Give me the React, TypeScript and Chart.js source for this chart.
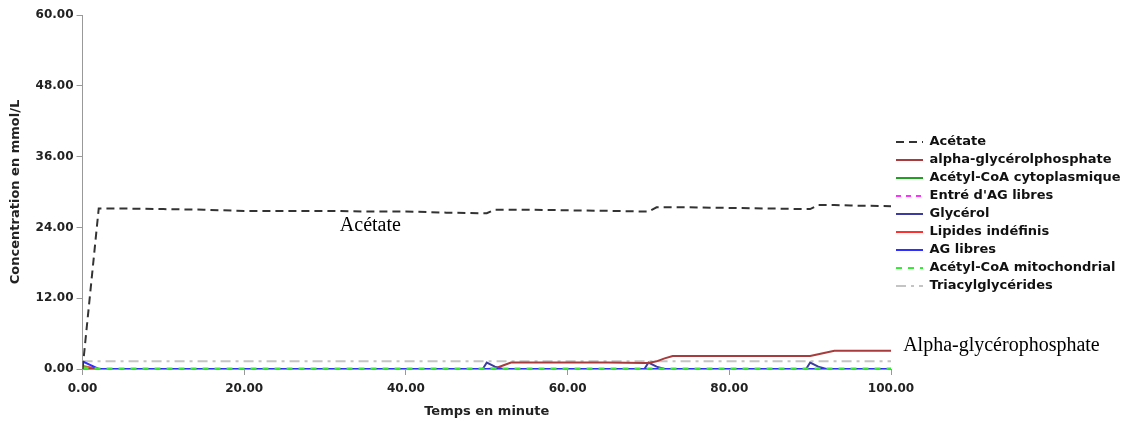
import React, { useEffect, useRef } from "react";
import { Chart, registerables } from "chart.js";

Chart.register(...registerables);

// Time points (minutes)
const times = [0, 2, 5, 10, 15, 20, 25, 30, 35, 40, 45, 49.5, 50, 51, 52, 53, 55, 60, 65, 69.5, 70, 71, 72, 73, 75, 80, 85, 89.5, 90, 91, 92, 93, 95, 100];

// Series values (mmol/L)
const acetate = [0, 27.2, 27.2, 27.1, 27.0, 26.8, 26.8, 26.8, 26.7, 26.7, 26.5, 26.4, 26.4, 27.0, 27.0, 27.0, 27.0, 26.9, 26.8, 26.7, 26.7, 27.4, 27.4, 27.4, 27.4, 27.3, 27.2, 27.1, 27.1, 27.8, 27.8, 27.8, 27.7, 27.6];
const alphaGlycerolphosphate = [0, 0, 0, 0, 0, 0, 0, 0, 0, 0, 0, 0, 0, 0.1, 0.6, 1.1, 1.1, 1.1, 1.1, 1.0, 1.0, 1.3, 1.8, 2.2, 2.2, 2.2, 2.2, 2.2, 2.2, 2.5, 2.8, 3.1, 3.1, 3.1];
const acetylCoaCyto = [0.3, 0, 0, 0, 0, 0, 0, 0, 0, 0, 0, 0, 0, 0, 0, 0, 0, 0, 0, 0, 0, 0, 0, 0, 0, 0, 0, 0, 0, 0, 0, 0, 0, 0];
const entreAgLibres = [0, 0, 0, 0, 0, 0, 0, 0, 0, 0, 0, 0, 0, 0, 0, 0, 0, 0, 0, 0, 0, 0, 0, 0, 0, 0, 0, 0, 0, 0, 0, 0, 0, 0];
const glycerol = [0, 0, 0, 0, 0, 0, 0, 0, 0, 0, 0, 0, 1.1, 0.4, 0, 0, 0, 0, 0, 0, 1.1, 0.4, 0, 0, 0, 0, 0, 0, 1.1, 0.4, 0, 0, 0, 0];
const lipidesIndefinis = [0.5, 0, 0, 0, 0, 0, 0, 0, 0, 0, 0, 0, 0, 0, 0, 0, 0, 0, 0, 0, 0, 0, 0, 0, 0, 0, 0, 0, 0, 0, 0, 0, 0, 0];
const agLibres = [1.3, 0, 0, 0, 0, 0, 0, 0, 0, 0, 0, 0, 0, 0, 0, 0, 0, 0, 0, 0, 0, 0, 0, 0, 0, 0, 0, 0, 0, 0, 0, 0, 0, 0];
const acetylCoaMito = [0.2, 0, 0, 0, 0, 0, 0, 0, 0, 0, 0, 0, 0, 0, 0, 0, 0, 0, 0, 0, 0, 0, 0, 0, 0, 0, 0, 0, 0, 0, 0, 0, 0, 0];
const triacylglycerides = [1.3, 1.3, 1.3, 1.3, 1.3, 1.3, 1.3, 1.3, 1.3, 1.3, 1.3, 1.3, 1.3, 1.3, 1.3, 1.3, 1.3, 1.3, 1.3, 1.3, 1.3, 1.3, 1.3, 1.3, 1.3, 1.3, 1.3, 1.3, 1.3, 1.3, 1.3, 1.3, 1.3, 1.3];

const seriesNames = [
  "Acétate",
  "alpha-glycérolphosphate",
  "Acétyl-CoA cytoplasmique",
  "Entré d'AG libres",
  "Glycérol",
  "Lipides indéfinis",
  "AG libres",
  "Acétyl-CoA mitochondrial",
  "Triacylglycérides",
];

// Axis ticks
const xTicks = [0, 20, 40, 60, 80, 100];
const yTicks = [0, 12, 24, 36, 48, 60];

// Annotation texts (data coordinates)
const annotationTexts = [
  { text: "Acétate", x: 35.6, y: 24.2, align: "center" },
  { text: "Alpha-glycérophosphate", x: 101.5, y: 4.0, align: "left" },
];

const toPoints = (arr: number[]) => times.map((t, i) => ({ x: t, y: arr[i] }));

export default function App() {
  const canvasRef = useRef<HTMLCanvasElement>(null);

  useEffect(() => {
    const canvas = canvasRef.current;
    if (!canvas) return;

    const annotationPlugin = {
      id: "textAnnotations",
      afterDatasetsDraw(chart: any) {
        const { ctx, scales } = chart;
        const x = scales.x;
        const y = scales.y;
        ctx.save();
        ctx.font = '20px "Liberation Serif", "Times New Roman", serif';
        ctx.fillStyle = "#000";
        ctx.textBaseline = "middle";
        for (const a of annotationTexts) {
          ctx.textAlign = a.align as CanvasTextAlign;
          ctx.fillText(a.text, x.getPixelForValue(a.x), y.getPixelForValue(a.y));
        }
        ctx.restore();
      },
    };

    const mk = (i: number, data: number[], color: string, dash: number[], width = 2, order = 0) => ({
      label: seriesNames[i],
      data: toPoints(data),
      borderColor: color,
      backgroundColor: color,
      borderDash: dash,
      borderWidth: width,
      pointRadius: 0,
      tension: 0,
      order,
    });

    const chart = new Chart(canvas, {
      type: "line",
      data: {
        datasets: [
          mk(0, acetate, "#333333", [8, 5], 2, -2),
          mk(1, alphaGlycerolphosphate, "#a83c3c", [], 2, 1),
          mk(2, acetylCoaCyto, "#22a022", [], 2, 2),
          mk(3, entreAgLibres, "#ff33ff", [5, 5], 2, 2),
          mk(4, glycerol, "#3c3ca0", [], 2, 1),
          mk(5, lipidesIndefinis, "#ff3030", [], 2, 1),
          mk(6, agLibres, "#2f2fff", [], 2, 0),
          mk(7, acetylCoaMito, "#33ee33", [6, 6], 3, -1),
          mk(8, triacylglycerides, "#c4c4c4", [10, 5, 3, 5], 2, 3),
        ],
      },
      options: {
        animation: false,
        responsive: false,
        devicePixelRatio: 1,
        layout: { padding: { left: 4, top: 5, right: 0, bottom: 0 } },
        plugins: {
          tooltip: { enabled: false },
          legend: {
            position: "right",
            maxWidth: 234,
            labels: {
              usePointStyle: true,
              pointStyle: "line",
              pointStyleWidth: 27,
              padding: 5,
              color: "#111",
              font: { family: '"DejaVu Sans"', size: 13, weight: "bold" },
              sort: (a: any, b: any) => a.datasetIndex - b.datasetIndex,
              generateLabels: (ch: any) => {
                const items = (Chart as any).defaults.plugins.legend.labels.generateLabels(ch);
                items.forEach((it: any) => {
                  const ds = ch.data.datasets[it.datasetIndex];
                  it.lineDash = ds.borderDash;
                  it.strokeStyle = ds.borderColor;
                  it.fillStyle = ds.borderColor;
                  it.lineWidth = 2;
                });
                return items;
              },
            },
          },
        },
        scales: {
          x: {
            type: "linear",
            min: 0,
            max: 100,
            afterBuildTicks: (axis: any) => {
              axis.ticks = xTicks.map((v) => ({ value: v }));
            },
            ticks: {
              color: "#222",
              padding: 6.5,
              font: { family: '"DejaVu Sans"', size: 12, weight: "bold" },
              callback: (v: any) => Number(v).toFixed(2),
              maxRotation: 0,
            },
            grid: { drawOnChartArea: false, color: "#999", tickLength: 6 },
            border: { color: "#999" },
            title: {
              display: true,
              text: "Temps en minute",
              color: "#222",
              font: { family: '"DejaVu Sans"', size: 13, weight: "bold" },
              padding: { top: 1, bottom: 4 },
            },
          },
          y: {
            type: "linear",
            min: 0,
            max: 60,
            afterBuildTicks: (axis: any) => {
              axis.ticks = yTicks.map((v) => ({ value: v }));
            },
            afterFit: (axis: any) => {
              axis.paddingTop = 15;
            },
            ticks: {
              color: "#222",
              padding: 3,
              font: { family: '"DejaVu Sans"', size: 12, weight: "bold" },
              callback: (v: any) => Number(v).toFixed(2),
            },
            grid: { drawOnChartArea: false, color: "#999", tickLength: 6 },
            border: { color: "#999" },
            title: {
              display: true,
              text: "Concentration en mmol/L",
              color: "#222",
              font: { family: '"DejaVu Sans"', size: 13, weight: "bold" },
              padding: { top: 4, bottom: 9 },
            },
          },
        },
      },
      plugins: [annotationPlugin],
    } as any);

    return () => chart.destroy();
  }, []);

  return (
    <div style={{ position: "absolute", left: 0, top: 0, width: 1125, height: 423, background: "#fff" }}>
      <canvas ref={canvasRef} width={1125} height={423} style={{ display: "block" }} />
    </div>
  );
}
